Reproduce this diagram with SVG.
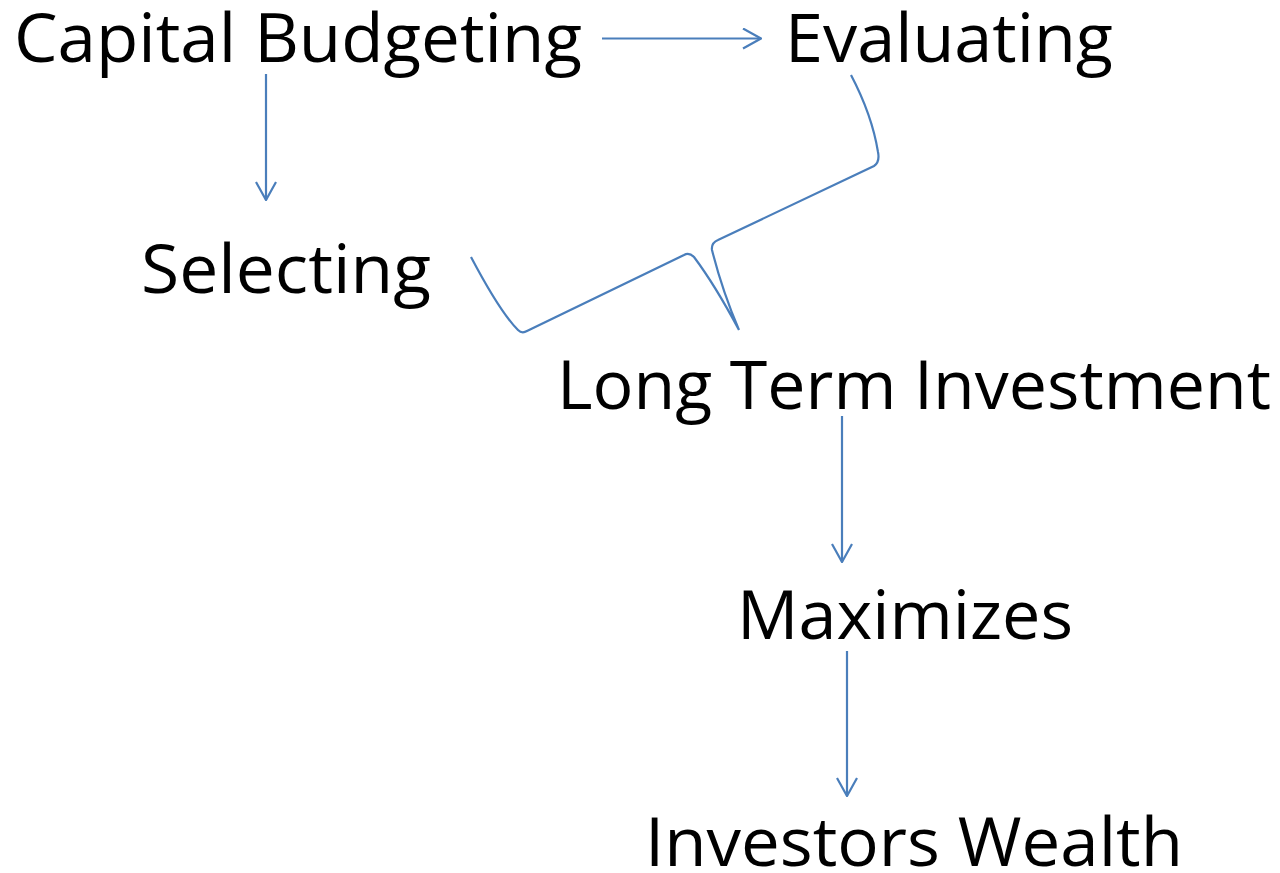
<svg xmlns="http://www.w3.org/2000/svg" width="1280" height="873" viewBox="0 0 1280 873">
<style>
.t{font-family:"Open Sans","Noto Sans","Liberation Sans",sans-serif;font-size:67px;fill:#000}
.c{fill:none;stroke:#4a7ebb;stroke-width:2.2}
</style>
<defs>
<marker id="ah" viewBox="0 0 20 22" refX="19" refY="11" markerWidth="20" markerHeight="22" markerUnits="userSpaceOnUse" orient="auto">
<path d="M1,1 L19,11 L1,21" fill="none" stroke="#4a7ebb" stroke-width="2.2"/>
</marker>
</defs>
<rect width="1280" height="873" fill="#fff"/>
<g id="n1"><text class="t" x="14" y="62" textLength="568" lengthAdjust="spacingAndGlyphs">Capital Budgeting</text></g>
<g id="n2"><text class="t" x="785" y="62" textLength="328" lengthAdjust="spacingAndGlyphs">Evaluating</text></g>
<g id="n3"><text class="t" x="141" y="293" textLength="290" lengthAdjust="spacingAndGlyphs">Selecting</text></g>
<g id="n4"><text class="t" x="557" y="409" textLength="714" lengthAdjust="spacingAndGlyphs">Long Term Investment</text></g>
<g id="n5"><text class="t" x="737" y="639" textLength="336" lengthAdjust="spacingAndGlyphs">Maximizes</text></g>
<g id="n6"><text class="t" x="645" y="866" textLength="538" lengthAdjust="spacingAndGlyphs">Investors Wealth</text></g>
<g id="connectors">
<line class="c" x1="602" y1="38.5" x2="761" y2="38.5" marker-end="url(#ah)"/>
<line class="c" x1="266" y1="74" x2="266" y2="200" marker-end="url(#ah)"/>
<line class="c" x1="842" y1="416" x2="842" y2="562" marker-end="url(#ah)"/>
<line class="c" x1="847" y1="651" x2="847" y2="796" marker-end="url(#ah)"/>
<path class="c" d="M471,257 Q500,312 518,330 Q522,334 527,331 L684,255 Q689,252 694,257 Q715,285 739,330 Q722,290 712,250 Q711,243 718,240 L874,166 Q880,162 878,152 Q872,115 851,75"/>
</g>
</svg>
